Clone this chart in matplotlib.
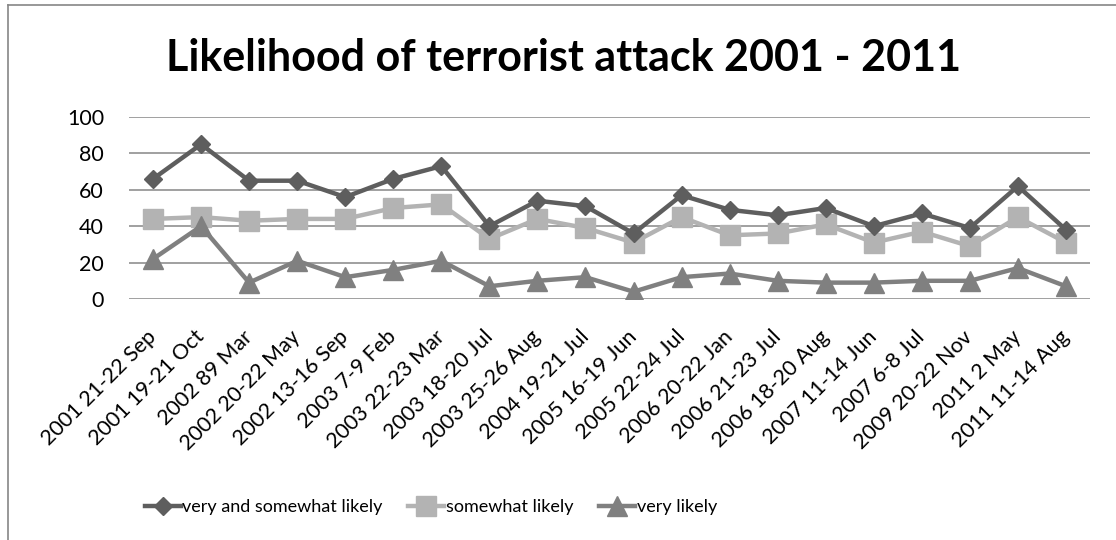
import matplotlib.pyplot as plt
from matplotlib.lines import Line2D

plt.rcParams["font.family"] = ["Lato", "DejaVu Sans"]

# survey dates (x axis categories)
dates = [
    "2001 21-22 Sep", "2001 19-21 Oct", "2002 89 Mar", "2002 20-22 May",
    "2002 13-16 Sep", "2003 7-9 Feb", "2003 22-23 Mar", "2003 18-20 Jul",
    "2003 25-26 Aug", "2004 19-21 Jul", "2005 16-19 Jun", "2005 22-24 Jul",
    "2006 20-22 Jan", "2006 21-23 Jul", "2006 18-20 Aug", "2007 11-14 Jun",
    "2007 6-8 Jul", "2009 20-22 Nov", "2011 2 May", "2011 11-14 Aug",
]

# percentages per answer
very_and_somewhat = [66, 85, 65, 65, 56, 66, 73, 40, 54, 51,
                     36, 57, 49, 46, 50, 40, 47, 39, 62, 38]
somewhat = [44, 45, 43, 44, 44, 50, 52, 33, 44, 39,
            31, 45, 35, 36, 41, 31, 37, 29, 45, 31]
very = [22, 40, 9, 21, 12, 16, 21, 7, 10, 12,
        4, 12, 14, 10, 9, 9, 10, 10, 17, 7]

y_ticks = [0, 20, 40, 60, 80, 100]

fig = plt.figure(figsize=(11.16, 5.4), dpi=100)
ax = fig.add_axes([129 / 1116, 241 / 540, 961 / 1116, 182 / 540])

x = list(range(len(dates)))
ax.plot(x, very_and_somewhat, color="#5e5e5e", lw=3.2, marker="D", ms=9,
        label="very and somewhat likely", zorder=4)
ax.plot(x, somewhat, color="#b3b3b3", lw=3.2, marker="s", ms=14,
        label="somewhat likely", zorder=3)
ax.plot(x, very, color="#808080", lw=3.2, marker="^", ms=14,
        label="very likely", zorder=3)

ax.set_xlim(-0.5, len(dates) - 0.5)
ax.set_ylim(0, 100)
ax.set_yticks(y_ticks)
ax.set_xticks(x)
ax.set_xticklabels(dates, rotation=45, ha="right", va="center",
                   rotation_mode="anchor", fontsize=15.5)
ax.tick_params(axis="both", length=0)
ax.tick_params(axis="y", labelsize=15.5, pad=18)
ax.tick_params(axis="x", pad=25)
ax.grid(axis="y", color="#868686", lw=1.1)
ax.set_axisbelow(True)
for s in ax.spines.values():
    s.set_visible(False)

fig.text(0.505, 1 - 71 / 540, "Likelihood of terrorist attack 2001 - 2011",
         ha="center", va="baseline", fontsize=31, fontweight="bold")

fig.legend(loc="center", bbox_to_anchor=(0.386, 1 - 507 / 540), ncol=3,
           frameon=False, fontsize=13, handlelength=2.0,
           columnspacing=1.4, handletextpad=0.1)

# chart frame
fig.add_artist(Line2D([8 / 1116, 8 / 1116], [0, 535 / 540],
                      color="#868686", lw=1.2))
fig.add_artist(Line2D([8 / 1116, 1], [535 / 540, 535 / 540],
                      color="#868686", lw=1.2))

fig.savefig("out.png", dpi=100)
